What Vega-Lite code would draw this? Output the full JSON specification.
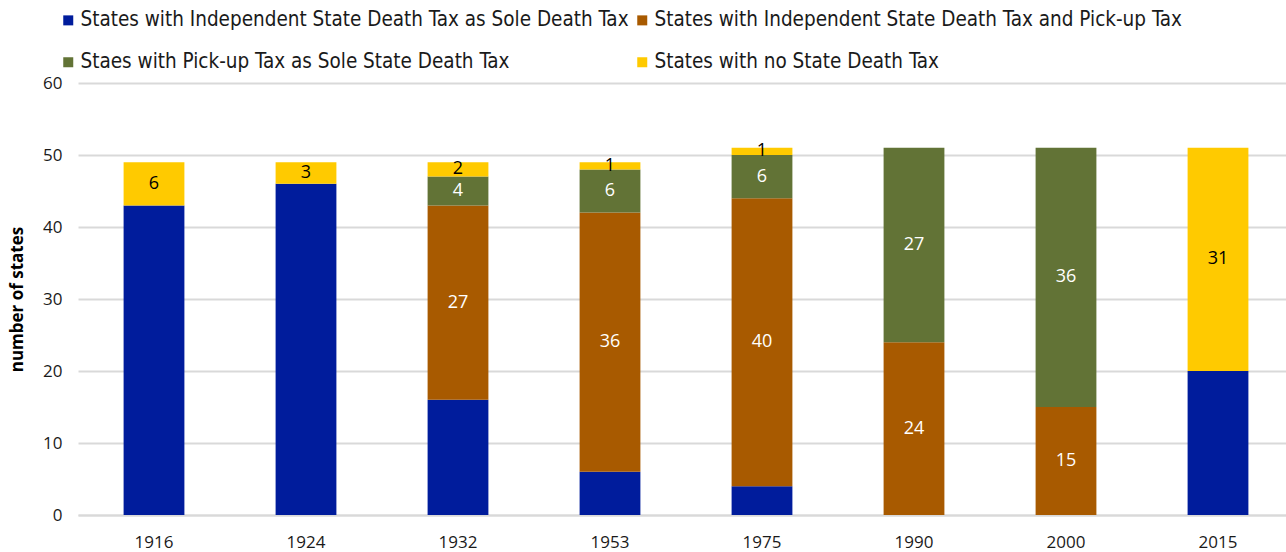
{
  "$schema": "https://vega.github.io/schema/vega-lite/v6.json",
  "width": 1216,
  "height": 432,
  "autosize": "none",
  "padding": {"left": 78, "top": 83, "right": 0, "bottom": 37},
  "background": "white",
  "config": {"view": {"stroke": null}, "font": "Open Sans"},
  "data": {"values": [
    {"year": "1916", "cat": "States with Independent State Death Tax as Sole Death Tax", "ord": 1, "n": 43, "lab": ""},
    {"year": "1916", "cat": "States with no State Death Tax", "ord": 4, "n": 6, "lab": "6"},
    {"year": "1924", "cat": "States with Independent State Death Tax as Sole Death Tax", "ord": 1, "n": 46, "lab": ""},
    {"year": "1924", "cat": "States with no State Death Tax", "ord": 4, "n": 3, "lab": "3"},
    {"year": "1932", "cat": "States with Independent State Death Tax as Sole Death Tax", "ord": 1, "n": 16, "lab": ""},
    {"year": "1932", "cat": "States with Independent State Death Tax and Pick-up Tax", "ord": 2, "n": 27, "lab": "27"},
    {"year": "1932", "cat": "Staes with Pick-up Tax as Sole State Death Tax", "ord": 3, "n": 4, "lab": "4"},
    {"year": "1932", "cat": "States with no State Death Tax", "ord": 4, "n": 2, "lab": "2"},
    {"year": "1953", "cat": "States with Independent State Death Tax as Sole Death Tax", "ord": 1, "n": 6, "lab": ""},
    {"year": "1953", "cat": "States with Independent State Death Tax and Pick-up Tax", "ord": 2, "n": 36, "lab": "36"},
    {"year": "1953", "cat": "Staes with Pick-up Tax as Sole State Death Tax", "ord": 3, "n": 6, "lab": "6"},
    {"year": "1953", "cat": "States with no State Death Tax", "ord": 4, "n": 1, "lab": "1"},
    {"year": "1975", "cat": "States with Independent State Death Tax as Sole Death Tax", "ord": 1, "n": 4, "lab": ""},
    {"year": "1975", "cat": "States with Independent State Death Tax and Pick-up Tax", "ord": 2, "n": 40, "lab": "40"},
    {"year": "1975", "cat": "Staes with Pick-up Tax as Sole State Death Tax", "ord": 3, "n": 6, "lab": "6"},
    {"year": "1975", "cat": "States with no State Death Tax", "ord": 4, "n": 1, "lab": "1"},
    {"year": "1990", "cat": "States with Independent State Death Tax and Pick-up Tax", "ord": 2, "n": 24, "lab": "24"},
    {"year": "1990", "cat": "Staes with Pick-up Tax as Sole State Death Tax", "ord": 3, "n": 27, "lab": "27"},
    {"year": "2000", "cat": "States with Independent State Death Tax and Pick-up Tax", "ord": 2, "n": 15, "lab": "15"},
    {"year": "2000", "cat": "Staes with Pick-up Tax as Sole State Death Tax", "ord": 3, "n": 36, "lab": "36"},
    {"year": "2015", "cat": "States with Independent State Death Tax as Sole Death Tax", "ord": 1, "n": 20, "lab": ""},
    {"year": "2015", "cat": "States with no State Death Tax", "ord": 4, "n": 31, "lab": "31"}
  ]},
  "transform": [
    {"stack": "n", "groupby": ["year"], "sort": [{"field": "ord", "order": "ascending"}], "as": ["y0", "y1"]},
    {"calculate": "(datum.y0 + datum.y1) / 2", "as": "ymid"}
  ],
  "encoding": {
    "x": {
      "field": "year", "type": "ordinal",
      "scale": {"paddingInner": 0.6, "paddingOuter": 0.3},
      "axis": {"title": null, "labelAngle": 0, "ticks": false, "domain": true, "domainColor": "#d9d9d9", "domainWidth": 2,
               "labelFont": "Open Sans", "labelFontSize": 17, "labelColor": "#1a1a1a", "labelPadding": 19}
    }
  },
  "layer": [
    {
      "mark": {"type": "bar"},
      "encoding": {
        "y": {"field": "y0", "type": "quantitative",
              "scale": {"domain": [0, 60]},
              "axis": {"title": "number of states", "titleFont": "Open Sans", "titleFontSize": 17, "titleFontWeight": "bold",
                       "titleColor": "#000000", "titlePadding": 16,
                       "values": [0, 10, 20, 30, 40, 50, 60], "ticks": false, "domain": false,
                       "grid": true, "gridColor": "#d9d9d9", "gridWidth": 2,
                       "labelFont": "Open Sans", "labelFontSize": 17, "labelColor": "#1a1a1a", "labelPadding": 16}},
        "y2": {"field": "y1"},
        "color": {
          "field": "cat", "type": "nominal",
          "scale": {
            "domain": ["States with Independent State Death Tax as Sole Death Tax", "States with Independent State Death Tax and Pick-up Tax", "Staes with Pick-up Tax as Sole State Death Tax", "States with no State Death Tax"],
            "range": ["#001c9c", "#a85a00", "#627336", "#ffca00"]
          },
          "legend": {
            "title": null, "orient": "none", "legendX": -20, "legendY": -73, "direction": "horizontal", "columns": 2,
            "symbolType": "square", "symbolSize": 100, "symbolStrokeWidth": 0, "symbolOpacity": 1,
            "labelFont": "DejaVu Sans Condensed", "labelFontSize": 20.5, "labelColor": "#1a1a1a", "labelOffset": 2,
            "labelLimit": 800, "columnPadding": 3, "rowPadding": 21
          }
        }
      }
    },
    {
      "mark": {"type": "text", "font": "Open Sans", "fontSize": 18, "baseline": "middle", "align": "center"},
      "encoding": {
        "y": {"field": "ymid", "type": "quantitative"},
        "text": {"field": "lab"},
        "color": {
          "condition": {"test": "datum.ord == 4", "value": "#000000"},
          "value": "#ffffff"
        }
      }
    }
  ]
}
